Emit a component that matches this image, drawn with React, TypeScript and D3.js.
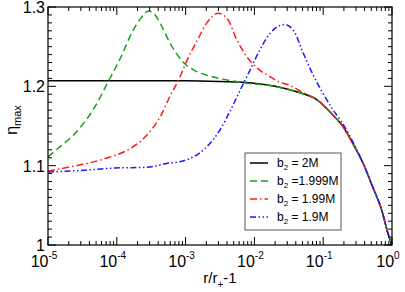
import { useEffect, useRef } from 'react';
import * as d3 from 'd3';

// r/r+ - 1 positions and eta_max values
const blackX = [1e-5, 1e-4, 1e-3, 3.16e-3, 1e-2, 0.02, 0.0316, 0.0457, 0.0813, 0.138, 0.195, 0.269, 0.38, 0.525, 0.708, 0.871, 1];
const blackY = [1.207, 1.207, 1.207, 1.206, 1.204, 1.2, 1.196, 1.192, 1.183, 1.164, 1.149, 1.128, 1.103, 1.073, 1.044, 1.015, 0.999];

const greenX = [1e-5, 1.41e-5, 1.95e-5, 3e-5, 4.8e-5, 7.4e-5, 1.15e-4, 1.62e-4, 2.24e-4, 2.9e-4, 3.6e-4, 4.3e-4, 5.9e-4, 9.1e-4, 1.29e-3, 2.24e-3, 4e-3, 7.8e-3, 0.02, 0.0316, 0.0457, 0.0813, 0.138, 0.195, 0.269, 0.38, 0.525, 0.708, 0.871, 1];
const greenY = [1.111, 1.122, 1.132, 1.149, 1.174, 1.205, 1.237, 1.266, 1.286, 1.295, 1.29, 1.279, 1.255, 1.231, 1.221, 1.213, 1.208, 1.204, 1.2, 1.196, 1.192, 1.183, 1.164, 1.149, 1.128, 1.103, 1.073, 1.044, 1.015, 0.999];

const redX = [1e-5, 1.95e-5, 3.8e-5, 7.4e-5, 1.45e-4, 2.57e-4, 4.3e-4, 5.9e-4, 8.3e-4, 1.05e-3, 1.48e-3, 2.04e-3, 2.95e-3, 3.98e-3, 5.6e-3, 7.8e-3, 0.011, 0.017, 0.0234, 0.031, 0.049, 0.0813, 0.138, 0.195, 0.269, 0.38, 0.525, 0.708, 0.871, 1];
const redY = [1.093, 1.098, 1.103, 1.11, 1.12, 1.136, 1.162, 1.187, 1.212, 1.233, 1.258, 1.28, 1.292, 1.286, 1.258, 1.237, 1.223, 1.212, 1.205, 1.202, 1.193, 1.183, 1.164, 1.149, 1.128, 1.103, 1.073, 1.044, 1.015, 0.999];

const blueX = [1e-5, 3e-5, 9.3e-5, 2.8e-4, 5.5e-4, 8.3e-4, 1.29e-3, 2.04e-3, 3.16e-3, 4.5e-3, 6.2e-3, 8.7e-3, 0.012, 0.017, 0.02, 0.0275, 0.039, 0.049, 0.069, 0.095, 0.135, 0.186, 0.245, 0.3, 0.38, 0.525, 0.708, 0.871, 1];
const blueY = [1.092, 1.094, 1.097, 1.098, 1.103, 1.105, 1.111, 1.124, 1.145, 1.17, 1.195, 1.221, 1.246, 1.267, 1.273, 1.278, 1.267, 1.246, 1.217, 1.194, 1.172, 1.155, 1.137, 1.122, 1.103, 1.073, 1.044, 1.015, 0.999];

const seriesNames = ['b2 = 2M', 'b2 =1.999M', 'b2 = 1.99M', 'b2 = 1.9M'];
const seriesLabels = [' = 2M', ' =1.999M', ' = 1.99M', ' = 1.9M'];
const seriesColors = ['#000000', '#13a013', '#ff1a1a', '#1a1aff'];
const seriesDash = ['none', '7,4', '7,3,1.5,3', '6,2.5,1.5,2.5,1.5,2.5'];

const xTickExps = [-5, -4, -3, -2, -1, 0];
const yTicks = [1, 1.1, 1.2, 1.3];

export default function App() {
  const svgRef = useRef<SVGSVGElement>(null);
  const width = 405;
  const height = 292;

  useEffect(() => {
    if (!svgRef.current) return;
    const svg = d3.select(svgRef.current);
    svg.selectAll('*').remove();

    const left = 48, right = 392, top = 7, bottom = 245;
    const x = d3.scaleLog().domain([1e-5, 1]).range([left, right]);
    const y = d3.scaleLinear().domain([1, 1.3]).range([bottom, top]);
    const font = '"Liberation Sans", Arial, sans-serif';

    const data = [
      d3.zip(blackX, blackY),
      d3.zip(greenX, greenY),
      d3.zip(redX, redY),
      d3.zip(blueX, blueY),
    ];

    const line = d3.line<number[]>()
      .x(d => x(d[0]))
      .y(d => y(d[1]))
      .curve(d3.curveMonotoneX);

    svg.append('defs').append('clipPath').attr('id', 'plot-clip')
      .append('rect').attr('x', left).attr('y', top - 2)
      .attr('width', right - left).attr('height', bottom - top + 4);

    // curves (black last so it sits on top like the original? original draws colours on top)
    const order = [0, 1, 2, 3];
    order.forEach(i => {
      svg.append('path')
        .datum(data[i])
        .attr('clip-path', 'url(#plot-clip)')
        .attr('fill', 'none')
        .attr('stroke', seriesColors[i])
        .attr('stroke-width', 1.5)
        .attr('stroke-dasharray', seriesDash[i])
        .attr('d', line);
    });

    // frame
    svg.append('rect')
      .attr('x', left).attr('y', top)
      .attr('width', right - left).attr('height', bottom - top)
      .attr('fill', 'none').attr('stroke', '#000').attr('stroke-width', 1.2);

    const ticks = svg.append('g').attr('stroke', '#000').attr('stroke-width', 1);

    // x ticks, top and bottom, inward
    const xMinor: number[] = [];
    for (let e = -5; e < 0; e++) for (let m = 2; m <= 9; m++) xMinor.push(m * Math.pow(10, e));
    xTickExps.forEach(e => {
      const px = x(Math.pow(10, e));
      ticks.append('line').attr('x1', px).attr('x2', px).attr('y1', bottom).attr('y2', bottom - 8);
      ticks.append('line').attr('x1', px).attr('x2', px).attr('y1', top).attr('y2', top + 8);
    });
    xMinor.forEach(v => {
      const px = x(v);
      ticks.append('line').attr('x1', px).attr('x2', px).attr('y1', bottom).attr('y2', bottom - 4);
      ticks.append('line').attr('x1', px).attr('x2', px).attr('y1', top).attr('y2', top + 4);
    });

    // y ticks, left and right
    d3.range(0, 31).forEach(k => {
      const v = 1 + k * 0.01;
      const py = y(v);
      const len = k % 10 === 0 ? 8 : 4;
      ticks.append('line').attr('x1', left).attr('x2', left + len).attr('y1', py).attr('y2', py);
      ticks.append('line').attr('x1', right).attr('x2', right - len).attr('y1', py).attr('y2', py);
    });

    // y tick labels
    yTicks.forEach(v => {
      svg.append('text')
        .attr('x', left - 3).attr('y', y(v) + 6)
        .attr('text-anchor', 'end')
        .attr('font-family', font).attr('font-size', 16)
        .text(v === 1 ? '1' : d3.format('.1f')(v));
    });

    // x tick labels 10^e
    xTickExps.forEach(e => {
      const t = svg.append('text')
        .attr('x', x(Math.pow(10, e)) - 4).attr('y', 267)
        .attr('text-anchor', 'middle')
        .attr('font-family', font).attr('font-size', 16);
      t.append('tspan').text('10');
      t.append('tspan').attr('dy', -8).attr('font-size', 10).text(String(e));
    });

    // axis titles
    const xl = svg.append('text')
      .attr('x', 220).attr('y', 283)
      .attr('text-anchor', 'middle')
      .attr('font-family', font).attr('font-size', 15);
    xl.append('tspan').text('r/r');
    xl.append('tspan').attr('dy', 5).attr('font-size', 10).text('+');
    xl.append('tspan').attr('dy', -5).text('-1');

    const yl = svg.append('text')
      .attr('transform', 'translate(17,120) rotate(-90)')
      .attr('text-anchor', 'middle')
      .attr('font-family', font).attr('font-size', 16);
    yl.append('tspan').text('\u03b7');
    yl.append('tspan').attr('dy', 4).attr('font-size', 11).text('max');

    // legend
    const lg = svg.append('g');
    lg.append('rect')
      .attr('x', 245).attr('y', 153).attr('width', 96).attr('height', 77)
      .attr('fill', '#fff').attr('stroke', '#555').attr('stroke-width', 1);
    seriesNames.forEach((name, i) => {
      const ry = 163 + i * 18;
      lg.append('line')
        .attr('x1', 250).attr('x2', 268).attr('y1', ry).attr('y2', ry)
        .attr('stroke', seriesColors[i]).attr('stroke-width', 1.5)
        .attr('stroke-dasharray', seriesDash[i]);
      const t = lg.append('text')
        .attr('x', 277).attr('y', ry + 4)
        .attr('font-family', font).attr('font-size', 12)
        .attr('data-name', name);
      t.append('tspan').text('b');
      t.append('tspan').attr('dy', 3).attr('font-size', 8).text('2');
      t.append('tspan').attr('dy', -3).text(seriesLabels[i]);
    });
  }, []);

  return (
    <svg
      ref={svgRef}
      width={width}
      height={height}
      style={{ position: 'absolute', left: 0, top: 0, background: '#fff' }}
    />
  );
}
